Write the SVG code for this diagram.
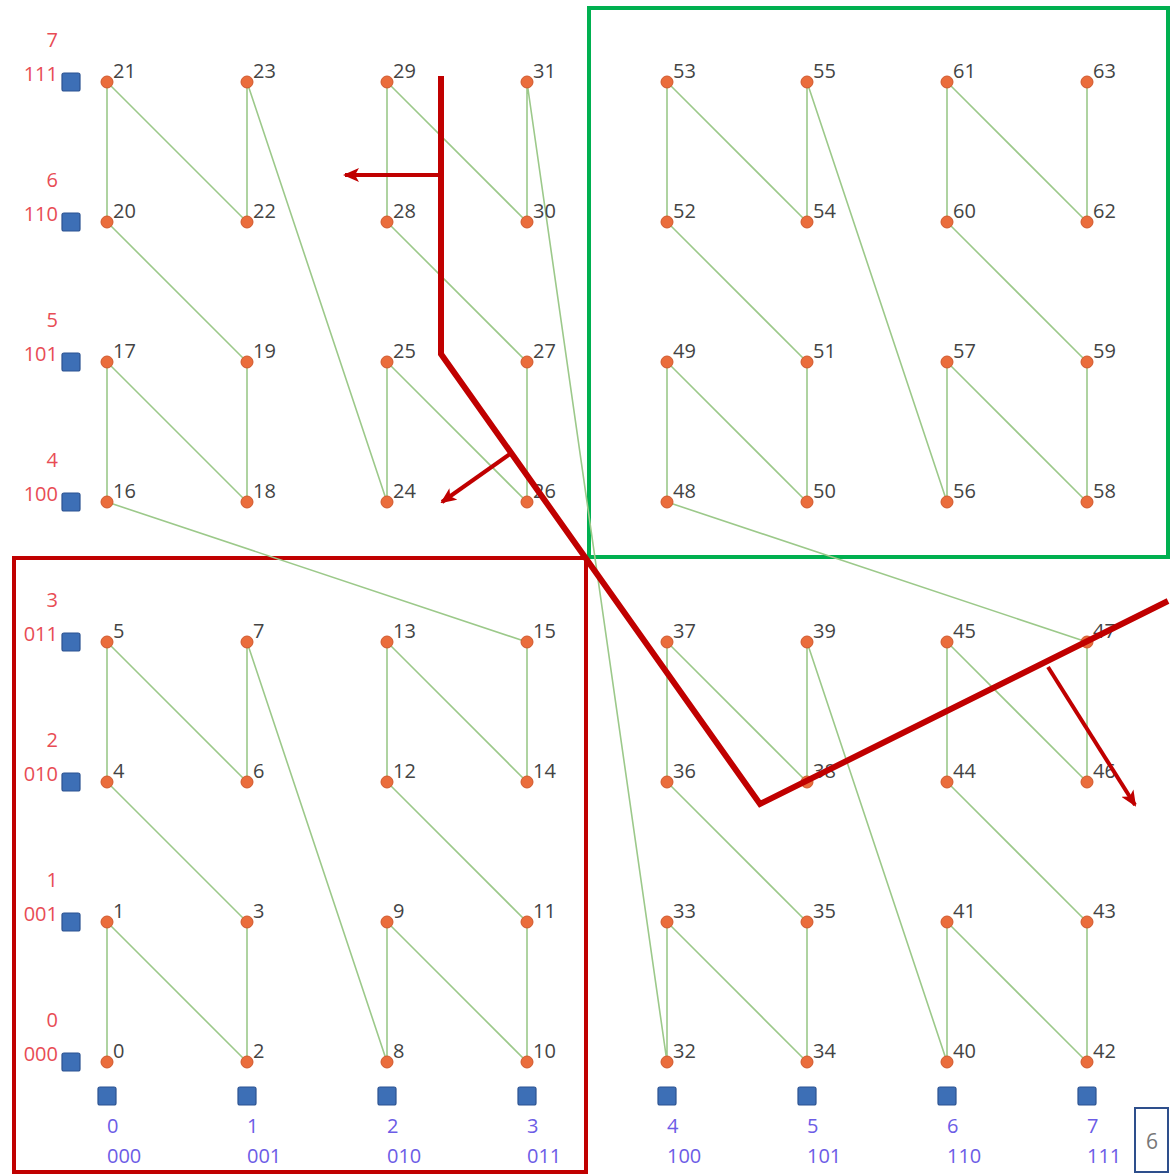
<svg xmlns="http://www.w3.org/2000/svg" width="1174" height="1174" viewBox="0 0 1174 1174">
<defs>
<style>
.e{fill:none;stroke:#9cc98a;stroke-width:1.6;stroke-linejoin:round}
.n circle{fill:#ea6d3c;stroke:#d0582c;stroke-width:1}
.n text{font-family:"Open Sans","Liberation Sans",sans-serif;font-size:20px;fill:#444}
.sq{fill:#3d6fb6;stroke:#2b5291;stroke-width:1.2}
.rl{font-family:"Open Sans","Liberation Sans",sans-serif;font-size:20px;fill:#e84c55;text-anchor:end}
.bl{font-family:"Open Sans","Liberation Sans",sans-serif;font-size:20px;fill:#6c5ce6}
.red{fill:none;stroke:#c00000;stroke-width:6;stroke-linejoin:miter}
.arr{fill:none;stroke:#c00000;stroke-width:4}
</style>
<marker id="ah" viewBox="0 0 16 14" markerWidth="16" markerHeight="14" refX="14" refY="7" orient="auto" markerUnits="userSpaceOnUse">
<path d="M0,0 L16,7 L0,14 L4,7 Z" fill="#c00000"/>
</marker>
</defs>
<rect width="1174" height="1174" fill="#fff"/>

<g id="boxes">
<rect x="589" y="8" width="579" height="549" fill="none" stroke="#00b050" stroke-width="4"/>
<rect x="14" y="558" width="572" height="614" fill="none" stroke="#c00000" stroke-width="4"/>
</g>

<g id="connectors">
<polyline class="e" points="107,1062 107,922 247,1062 247,922 107,782 107,642 247,782 247,642 387,1062 387,922 527,1062 527,922 387,782 387,642 527,782 527,642 107,502 107,362 247,502 247,362 107,222 107,82 247,222 247,82 387,502 387,362 527,502 527,362 387,222 387,82 527,222 527,82 667,1062 667,922 807,1062 807,922 667,782 667,642 807,782 807,642 947,1062 947,922 1087,1062 1087,922 947,782 947,642 1087,782 1087,642 667,502 667,362 807,502 807,362 667,222 667,82 807,222 807,82 947,502 947,362 1087,502 1087,362 947,222 947,82 1087,222 1087,82"/>
</g>

<g id="row-markers">
<rect class="sq" x="62" y="73" width="18" height="18" rx="2"/>
<rect class="sq" x="62" y="213" width="18" height="18" rx="2"/>
<rect class="sq" x="62" y="353" width="18" height="18" rx="2"/>
<rect class="sq" x="62" y="493" width="18" height="18" rx="2"/>
<rect class="sq" x="62" y="633" width="18" height="18" rx="2"/>
<rect class="sq" x="62" y="773" width="18" height="18" rx="2"/>
<rect class="sq" x="62" y="913" width="18" height="18" rx="2"/>
<rect class="sq" x="62" y="1053" width="18" height="18" rx="2"/>
<text class="rl" x="58" y="47">7</text><text class="rl" x="58" y="81">111</text>
<text class="rl" x="58" y="187">6</text><text class="rl" x="58" y="221">110</text>
<text class="rl" x="58" y="327">5</text><text class="rl" x="58" y="361">101</text>
<text class="rl" x="58" y="467">4</text><text class="rl" x="58" y="501">100</text>
<text class="rl" x="58" y="607">3</text><text class="rl" x="58" y="641">011</text>
<text class="rl" x="58" y="747">2</text><text class="rl" x="58" y="781">010</text>
<text class="rl" x="58" y="887">1</text><text class="rl" x="58" y="921">001</text>
<text class="rl" x="58" y="1027">0</text><text class="rl" x="58" y="1061">000</text>
</g>

<g id="col-markers">
<rect class="sq" x="98" y="1087" width="18" height="18" rx="2"/>
<rect class="sq" x="238" y="1087" width="18" height="18" rx="2"/>
<rect class="sq" x="378" y="1087" width="18" height="18" rx="2"/>
<rect class="sq" x="518" y="1087" width="18" height="18" rx="2"/>
<rect class="sq" x="658" y="1087" width="18" height="18" rx="2"/>
<rect class="sq" x="798" y="1087" width="18" height="18" rx="2"/>
<rect class="sq" x="938" y="1087" width="18" height="18" rx="2"/>
<rect class="sq" x="1078" y="1087" width="18" height="18" rx="2"/>
<text class="bl" x="107" y="1133">0</text><text class="bl" x="107" y="1163">000</text>
<text class="bl" x="247" y="1133">1</text><text class="bl" x="247" y="1163">001</text>
<text class="bl" x="387" y="1133">2</text><text class="bl" x="387" y="1163">010</text>
<text class="bl" x="527" y="1133">3</text><text class="bl" x="527" y="1163">011</text>
<text class="bl" x="667" y="1133">4</text><text class="bl" x="667" y="1163">100</text>
<text class="bl" x="807" y="1133">5</text><text class="bl" x="807" y="1163">101</text>
<text class="bl" x="947" y="1133">6</text><text class="bl" x="947" y="1163">110</text>
<text class="bl" x="1087" y="1133">7</text><text class="bl" x="1087" y="1163">111</text>
</g>

<g id="nodes">
<g id="n0" class="n"><circle cx="107" cy="1062" r="6"/><text x="113" y="1058">0</text></g>
<g id="n1" class="n"><circle cx="107" cy="922" r="6"/><text x="113" y="918">1</text></g>
<g id="n2" class="n"><circle cx="247" cy="1062" r="6"/><text x="253" y="1058">2</text></g>
<g id="n3" class="n"><circle cx="247" cy="922" r="6"/><text x="253" y="918">3</text></g>
<g id="n4" class="n"><circle cx="107" cy="782" r="6"/><text x="113" y="778">4</text></g>
<g id="n5" class="n"><circle cx="107" cy="642" r="6"/><text x="113" y="638">5</text></g>
<g id="n6" class="n"><circle cx="247" cy="782" r="6"/><text x="253" y="778">6</text></g>
<g id="n7" class="n"><circle cx="247" cy="642" r="6"/><text x="253" y="638">7</text></g>
<g id="n8" class="n"><circle cx="387" cy="1062" r="6"/><text x="393" y="1058">8</text></g>
<g id="n9" class="n"><circle cx="387" cy="922" r="6"/><text x="393" y="918">9</text></g>
<g id="n10" class="n"><circle cx="527" cy="1062" r="6"/><text x="533" y="1058">10</text></g>
<g id="n11" class="n"><circle cx="527" cy="922" r="6"/><text x="533" y="918">11</text></g>
<g id="n12" class="n"><circle cx="387" cy="782" r="6"/><text x="393" y="778">12</text></g>
<g id="n13" class="n"><circle cx="387" cy="642" r="6"/><text x="393" y="638">13</text></g>
<g id="n14" class="n"><circle cx="527" cy="782" r="6"/><text x="533" y="778">14</text></g>
<g id="n15" class="n"><circle cx="527" cy="642" r="6"/><text x="533" y="638">15</text></g>
<g id="n16" class="n"><circle cx="107" cy="502" r="6"/><text x="113" y="498">16</text></g>
<g id="n17" class="n"><circle cx="107" cy="362" r="6"/><text x="113" y="358">17</text></g>
<g id="n18" class="n"><circle cx="247" cy="502" r="6"/><text x="253" y="498">18</text></g>
<g id="n19" class="n"><circle cx="247" cy="362" r="6"/><text x="253" y="358">19</text></g>
<g id="n20" class="n"><circle cx="107" cy="222" r="6"/><text x="113" y="218">20</text></g>
<g id="n21" class="n"><circle cx="107" cy="82" r="6"/><text x="113" y="78">21</text></g>
<g id="n22" class="n"><circle cx="247" cy="222" r="6"/><text x="253" y="218">22</text></g>
<g id="n23" class="n"><circle cx="247" cy="82" r="6"/><text x="253" y="78">23</text></g>
<g id="n24" class="n"><circle cx="387" cy="502" r="6"/><text x="393" y="498">24</text></g>
<g id="n25" class="n"><circle cx="387" cy="362" r="6"/><text x="393" y="358">25</text></g>
<g id="n26" class="n"><circle cx="527" cy="502" r="6"/><text x="533" y="498">26</text></g>
<g id="n27" class="n"><circle cx="527" cy="362" r="6"/><text x="533" y="358">27</text></g>
<g id="n28" class="n"><circle cx="387" cy="222" r="6"/><text x="393" y="218">28</text></g>
<g id="n29" class="n"><circle cx="387" cy="82" r="6"/><text x="393" y="78">29</text></g>
<g id="n30" class="n"><circle cx="527" cy="222" r="6"/><text x="533" y="218">30</text></g>
<g id="n31" class="n"><circle cx="527" cy="82" r="6"/><text x="533" y="78">31</text></g>
<g id="n32" class="n"><circle cx="667" cy="1062" r="6"/><text x="673" y="1058">32</text></g>
<g id="n33" class="n"><circle cx="667" cy="922" r="6"/><text x="673" y="918">33</text></g>
<g id="n34" class="n"><circle cx="807" cy="1062" r="6"/><text x="813" y="1058">34</text></g>
<g id="n35" class="n"><circle cx="807" cy="922" r="6"/><text x="813" y="918">35</text></g>
<g id="n36" class="n"><circle cx="667" cy="782" r="6"/><text x="673" y="778">36</text></g>
<g id="n37" class="n"><circle cx="667" cy="642" r="6"/><text x="673" y="638">37</text></g>
<g id="n38" class="n"><circle cx="807" cy="782" r="6"/><text x="813" y="778">38</text></g>
<g id="n39" class="n"><circle cx="807" cy="642" r="6"/><text x="813" y="638">39</text></g>
<g id="n40" class="n"><circle cx="947" cy="1062" r="6"/><text x="953" y="1058">40</text></g>
<g id="n41" class="n"><circle cx="947" cy="922" r="6"/><text x="953" y="918">41</text></g>
<g id="n42" class="n"><circle cx="1087" cy="1062" r="6"/><text x="1093" y="1058">42</text></g>
<g id="n43" class="n"><circle cx="1087" cy="922" r="6"/><text x="1093" y="918">43</text></g>
<g id="n44" class="n"><circle cx="947" cy="782" r="6"/><text x="953" y="778">44</text></g>
<g id="n45" class="n"><circle cx="947" cy="642" r="6"/><text x="953" y="638">45</text></g>
<g id="n46" class="n"><circle cx="1087" cy="782" r="6"/><text x="1093" y="778">46</text></g>
<g id="n47" class="n"><circle cx="1087" cy="642" r="6"/><text x="1093" y="638">47</text></g>
<g id="n48" class="n"><circle cx="667" cy="502" r="6"/><text x="673" y="498">48</text></g>
<g id="n49" class="n"><circle cx="667" cy="362" r="6"/><text x="673" y="358">49</text></g>
<g id="n50" class="n"><circle cx="807" cy="502" r="6"/><text x="813" y="498">50</text></g>
<g id="n51" class="n"><circle cx="807" cy="362" r="6"/><text x="813" y="358">51</text></g>
<g id="n52" class="n"><circle cx="667" cy="222" r="6"/><text x="673" y="218">52</text></g>
<g id="n53" class="n"><circle cx="667" cy="82" r="6"/><text x="673" y="78">53</text></g>
<g id="n54" class="n"><circle cx="807" cy="222" r="6"/><text x="813" y="218">54</text></g>
<g id="n55" class="n"><circle cx="807" cy="82" r="6"/><text x="813" y="78">55</text></g>
<g id="n56" class="n"><circle cx="947" cy="502" r="6"/><text x="953" y="498">56</text></g>
<g id="n57" class="n"><circle cx="947" cy="362" r="6"/><text x="953" y="358">57</text></g>
<g id="n58" class="n"><circle cx="1087" cy="502" r="6"/><text x="1093" y="498">58</text></g>
<g id="n59" class="n"><circle cx="1087" cy="362" r="6"/><text x="1093" y="358">59</text></g>
<g id="n60" class="n"><circle cx="947" cy="222" r="6"/><text x="953" y="218">60</text></g>
<g id="n61" class="n"><circle cx="947" cy="82" r="6"/><text x="953" y="78">61</text></g>
<g id="n62" class="n"><circle cx="1087" cy="222" r="6"/><text x="1093" y="218">62</text></g>
<g id="n63" class="n"><circle cx="1087" cy="82" r="6"/><text x="1093" y="78">63</text></g>
</g>

<g id="cut">
<polyline class="red" points="441,76 441,354 760,804 1168,601"/>
<line class="arr" x1="441" y1="175" x2="345" y2="175" marker-end="url(#ah)"/>
<line class="arr" x1="510" y1="454" x2="442" y2="502" marker-end="url(#ah)"/>
<line class="arr" x1="1048" y1="667" x2="1135" y2="805" marker-end="url(#ah)"/>
</g>

<g id="page">
<rect x="1135" y="1108" width="33" height="64" fill="#fff" stroke="#2e4f8c" stroke-width="2"/>
<text x="1152" y="1149" text-anchor="middle" font-family="'Open Sans','Liberation Sans',sans-serif" font-size="21" fill="#777">6</text>
</g>
</svg>
